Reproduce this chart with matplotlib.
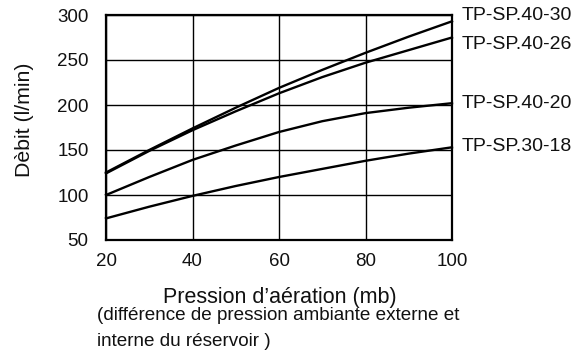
import matplotlib
matplotlib.use("Agg")
import matplotlib.pyplot as plt

pression = [20, 30, 40, 50, 60, 70, 80, 90, 100]
tp_sp_40_30 = [125, 150, 174, 197, 219, 239, 258, 276, 293]
tp_sp_40_26 = [124, 149, 172, 193, 213, 231, 247, 261, 275]
tp_sp_40_20 = [100, 120, 139, 155, 170, 182, 191, 197, 202]
tp_sp_30_18 = [74, 87, 99, 110, 120, 129, 138, 146, 153]
series = [("TP-SP.40-30", tp_sp_40_30, 299), ("TP-SP.40-26", tp_sp_40_26, 267),
          ("TP-SP.40-20", tp_sp_40_20, 202), ("TP-SP.30-18", tp_sp_30_18, 154)]
xticks = [20, 40, 60, 80, 100]
yticks = [50, 100, 150, 200, 250, 300]

plt.rcParams['font.family'] = ['Liberation Sans', 'DejaVu Sans']
fig = plt.figure(figsize=(5.74, 3.54), dpi=100)
ax = fig.add_axes([106/574, 1-240/354, (452-106)/574, (240-15)/354])
ax.set_xlim(20, 100)
ax.set_ylim(50, 300)
ax.set_xticks(xticks)
ax.set_yticks(yticks)
ax.grid(True, color='black', linewidth=1.0)
ax.set_axisbelow(True)
for s in ax.spines.values():
    s.set_linewidth(1.6)
ax.tick_params(length=0, labelsize=13.5, colors='#111111')
ax.tick_params(axis='x', pad=9)
ax.tick_params(axis='y', pad=12.5)
for name, vals, ly in series:
    ax.plot(pression, vals, color='black', linewidth=1.7, clip_on=False, zorder=3)
    ax.annotate(name, xy=(1.0, ly), xycoords=('axes fraction', 'data'),
                xytext=(7, 0), textcoords='offset points', va='center', ha='left',
                fontsize=14, color='#111111', annotation_clip=False)
fig.text(25/574, 1-120/354, "Dèbit (l/min)", rotation=90, ha='center', va='center',
         fontsize=15.3, color='#111111')
fig.text(280/574, 1-298/354, "Pression d’aération (mb)", ha='center', va='center',
         fontsize=15.5, color='#111111')
fig.text(97/574, 1-316/354, "(différence de pression ambiante externe et", ha='left',
         va='center', fontsize=13.6, color='#111111')
fig.text(97/574, 1-341/354, "interne du réservoir )", ha='left', va='center',
         fontsize=13.6, color='#111111')
fig.savefig("out.png", dpi=100)
